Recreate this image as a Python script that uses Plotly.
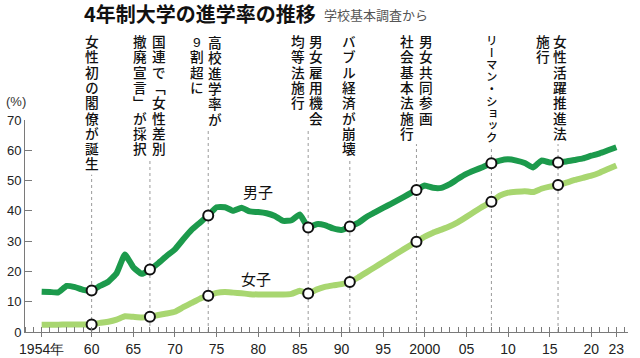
import plotly.graph_objects as go

# ---------------- data ----------------
years = list(range(1954, 2024))
male = [13.3, 13.2, 13.1, 15.2, 14.8, 13.9, 13.7, 15.2, 16.6, 19.4,
        25.6, 21.4, 19.2, 20.6, 22.7, 25.1, 27.3, 30.6, 33.7, 36.1,
        38.5, 41.2, 41.2, 40.0, 41.0, 39.8, 39.6, 39.2, 38.3, 36.7,
        36.9, 38.8, 34.5, 35.6, 35.3, 34.2, 33.7, 34.8, 36.0, 38.0,
        39.5, 41.0, 42.4, 43.9, 45.4, 46.9, 48.4, 47.6, 47.6, 48.8,
        50.6, 52.2, 53.4, 54.5, 55.7, 56.6, 57.0, 56.6, 55.8, 54.3,
        56.6, 56.0, 56.0, 56.3, 56.8, 57.3, 58.2, 59.0, 60.0, 61.0]
female = [2.4, 2.4, 2.4, 2.5, 2.5, 2.5, 2.5, 3.0, 3.4, 4.1,
          5.2, 5.0, 4.8, 5.0, 5.6, 6.1, 6.7, 8.2, 9.6, 11.0,
          12.0, 12.9, 13.2, 13.0, 12.8, 12.5, 12.4, 12.4, 12.4, 12.4,
          12.6, 13.6, 12.7, 14.0, 14.9, 15.4, 15.8, 16.5, 18.0, 19.7,
          21.4, 23.1, 24.8, 26.5, 28.2, 29.8, 31.5, 32.8, 33.8, 34.9,
          36.3, 38.0, 39.8, 41.5, 43.0, 45.0, 46.0, 46.3, 46.5, 46.2,
          47.3, 48.0, 48.5, 49.3, 50.2, 50.9, 51.6, 52.6, 53.8, 55.0]

tick_years = [1954, 1960, 1965, 1970, 1975, 1980, 1985, 1990, 1995,
              2000, 2005, 2010, 2015, 2020, 2023]
tick_labels = ["1954年", "60", "65", "70", "75", "80", "85", "90", "95",
               "2000", "05", "10", "15", "20", "23"]
y_ticks = [0, 10, 20, 30, 40, 50, 60, 70]

event_years = [1960, 1967, 1974, 1986, 1991, 1999, 2008, 2016]
event_texts = [["女性初の閣僚が誕生"],
               ["国連で「女性差別", "撤廃宣言」が採択"],
               ["高校進学率が", "9割超に"],
               ["男女雇用機会", "均等法施行"],
               ["バブル経済が崩壊"],
               ["男女共同参画", "社会基本法施行"],
               ["リーマン・ショック"],
               ["女性活躍推進法", "施行"]]

title_text = "4年制大学の進学率の推移"
source_text = "学校基本調査から"
series_names = ["男子", "女子"]

# ---------------- layout / style ----------------
W, H = 640, 358
ML, MR, MT, MB = 25, 12, 120, 26
PLOT_H = H - MT - MB
PLOT_W = W - ML - MR
JP = "Noto Sans CJK JP"
VJP = "Liberation Sans, Noto Sans CJK JP"
NUM = "Liberation Sans"
MALE_C = "#1c9a4c"
FEMALE_C = "#a8d670"
AXIS_C = "#7a7a7a"


def py(p):
    return (H - MB - p) / PLOT_H


def px_x(p):
    return (p - ML) / PLOT_W


col_shift = [[0], [9, -10], [7, -11], [8, -10], [-1], [10, -9], [1], [2, -15]]
col_pitch = [15.3, 15.3, 15.3, 15.3, 15.3, 15.3, 12.1, 15.3]
col_glyph = [13.7, 13.7, 13.7, 13.7, 13.7, 13.7, 11.5, 13.7]
TEXT_TOP = 34


def vertical(col, glyph):
    style = "font-size:%.1fpx;font-feature-settings:'vert' 1" % glyph
    return "<br>".join('<span style="%s">%s</span>' % (style, ch) for ch in col)


fig = go.Figure()

fig.add_trace(go.Scatter(x=years, y=female, mode="lines",
                         line=dict(color=FEMALE_C, width=6, shape="spline", smoothing=0.4),
                         hoverinfo="skip", showlegend=False))
fig.add_trace(go.Scatter(x=years, y=male, mode="lines",
                         line=dict(color=MALE_C, width=6, shape="spline", smoothing=0.4),
                         hoverinfo="skip", showlegend=False))

mk_x = event_years + event_years
mk_y = [male[years.index(y)] for y in event_years] + [female[years.index(y)] for y in event_years]
fig.add_trace(go.Scatter(x=mk_x, y=mk_y, mode="markers",
                         marker=dict(symbol="circle", size=10, color="white",
                                     line=dict(color="#111", width=2)),
                         hoverinfo="skip", showlegend=False, cliponaxis=False))

shapes = []
annotations = []
for ey, cols, shifts, pitch, glyph in zip(event_years, event_texts, col_shift,
                                          col_pitch, col_glyph):
    maxlen = max(len(c) for c in cols)
    for col, sh in zip(cols, shifts):
        annotations.append(dict(
            x=ey, xref="x", xshift=sh,
            y=py(TEXT_TOP - 0.5), yref="paper",
            text=vertical(col, glyph), showarrow=False, xanchor="center", yanchor="top",
            align="center", borderpad=0,
            font=dict(family=VJP, size=pitch / 1.3, color="#111", weight=500)))
    shapes.append(dict(type="line", xref="x", yref="paper", x0=ey, x1=ey,
                       y0=0, y1=py(TEXT_TOP + pitch * maxlen + 3),
                       line=dict(color="#9a9a9a", width=1, dash="dot"), layer="below"))

annotations.append(dict(x=px_x(82), xref="paper", y=py(13.5), yref="paper",
                        text="<b>" + title_text + "</b>", showarrow=False,
                        xanchor="left", yanchor="middle",
                        font=dict(family=JP, size=20, color="#111")))
annotations.append(dict(x=px_x(322), xref="paper", y=py(14), yref="paper",
                        text=source_text, showarrow=False,
                        xanchor="left", yanchor="middle",
                        font=dict(family=JP, size=13, color="#555")))
annotations.append(dict(x=px_x(4), xref="paper", y=py(101), yref="paper",
                        text="(%)", showarrow=False, xanchor="left", yanchor="middle",
                        font=dict(family=NUM, size=13, color="#333")))
annotations.append(dict(x=1980, xref="x", y=46.3, yref="y", text=series_names[0],
                        showarrow=False, font=dict(family=JP, size=15, color="#111")))
annotations.append(dict(x=1979.7, xref="x", y=17.8, yref="y", text=series_names[1],
                        showarrow=False, font=dict(family=JP, size=15, color="#111")))

fig.update_layout(
    width=W, height=H,
    margin=dict(l=ML, r=MR, t=MT, b=MB, pad=0, autoexpand=False),
    paper_bgcolor="white", plot_bgcolor="white",
    shapes=shapes, annotations=annotations,
    xaxis=dict(range=[1952, 2024.4], showgrid=False, zeroline=False, automargin=False,
               showline=True, linecolor=AXIS_C, linewidth=1,
               tickmode="array", tickvals=tick_years, ticktext=tick_labels,
               ticks="outside", ticklen=4, tickcolor=AXIS_C, tickwidth=1,
               tickfont=dict(family=NUM, size=14, color="#222"),
               minor=dict(dtick=1, tick0=1954, ticks="inside", ticklen=5,
                          tickcolor=AXIS_C, showgrid=False),
               fixedrange=True),
    yaxis=dict(range=[0, 70], showgrid=False, zeroline=False, automargin=False,
               showline=True, linecolor=AXIS_C, linewidth=1,
               tickmode="array", tickvals=y_ticks,
               ticks="inside", ticklen=7, tickcolor=AXIS_C,
               tickfont=dict(family=NUM, size=13, color="#222"),
               fixedrange=True),
)

fig.write_html("out.html", config={"displayModeBar": False},
               post_script="document.body.style.margin='0px';")
